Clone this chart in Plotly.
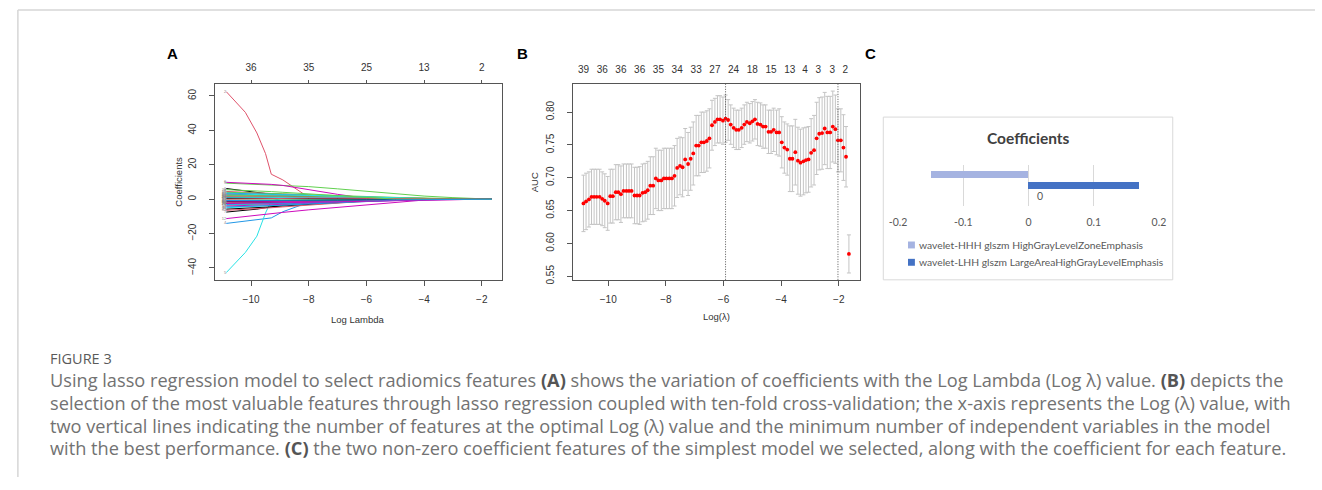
import plotly.graph_objects as go

W, H = 1322, 490

# ---------------- Panel A: lasso coefficient paths ----------------
A_LOG_LAMBDA = [-10.86, -10.2, -9.8, -9.5, -9.3, -8.9, -8.0, -7.0, -6.0, -5.0, -4.0, -3.0, -2.0, -1.65]
A_COEF_PATHS = [
    [6.2, 4.8, 3.8, 3.0, 2.6, 2.0, 1.0, 0.3, 0, 0, 0, 0, 0, 0],
    [62.5, 50.5, 38.5, 26.5, 14.5, 11.2, 1.0, 0, 0, 0, 0, 0, 0, 0],
    [9.3, 8.9, 8.6, 8.4, 8.2, 7.9, 7.3, 6.0, 4.6, 3.2, 1.8, 0.9, 0.05, 0],
    [-14.1, -12.7, -11.9, -11.3, -10.9, -7.3, -1.8, 0, 0, 0, 0, 0, 0, 0],
    [-42.7, -31.0, -21.5, -8.0, -1.0, 0.6, 1.0, 0.4, 0, 0, 0, 0, 0, 0],
    [9.8, 9.4, 9.1, 8.8, 8.6, 8.0, 5.5, 2.8, 0.5, 0, 0, 0, 0, 0],
    [-7.5, -6.5, -5.8, -5.0, -4.5, -3.3, -1.2, 0, 0, 0, 0, 0, 0, 0],
    [4.5, 4.0, 3.6, 3.3, 3.1, 2.8, 2.0, 1.2, 0.5, 0, 0, 0, 0, 0],
    [-3.5, -3.2, -3.0, -2.8, -2.7, -2.5, -2.0, -1.3, -0.6, 0, 0, 0, 0, 0],
    [2.0, 1.9, 1.8, 1.7, 1.6, 1.5, 1.2, 0.9, 0.5, 0.2, 0, 0, 0, 0],
    [-5.0, -4.6, -4.3, -4.0, -3.8, -3.4, -2.6, -1.6, -0.7, 0, 0, 0, 0, 0],
    [-11.3, -10.0, -9.3, -8.8, -8.4, -7.7, -6.2, -4.7, -3.2, -1.8, -0.5, 0, 0, 0],
    [3.0, 2.8, 2.6, 2.5, 2.4, 2.2, 1.7, 1.1, 0.6, 0.2, 0, 0, 0, 0],
    [-2.0, -1.9, -1.8, -1.7, -1.6, -1.5, -1.2, -0.8, -0.4, -0.1, 0, 0, 0, 0],
    [4.0, 3.8, 3.6, 3.4, 3.3, 3.1, 2.6, 2.0, 1.4, 0.8, 0.3, 0, 0, 0],
    [-1.0, -1.0, -0.9, -0.9, -0.9, -0.8, -0.7, -0.5, -0.3, -0.1, 0, 0, 0, 0],
    [0.5, 0.6, 0.7, 0.7, 0.8, 0.8, 0.9, 0.8, 0.6, 0.3, 0, 0, 0, 0],
    [-4.0, -3.8, -3.6, -3.4, -3.3, -3.0, -2.4, -1.8, -1.2, -0.7, -0.3, -0.05, 0, 0],
    [-2.5, -2.4, -2.3, -2.2, -2.1, -2.0, -1.7, -1.2, -0.7, -0.2, 0, 0, 0, 0],
    [1.5, 1.5, 1.5, 1.4, 1.4, 1.4, 1.3, 1.1, 0.8, 0.5, 0.2, 0, 0, 0],
    [-1.5, -1.4, -1.4, -1.3, -1.3, -1.2, -1.0, -0.7, -0.3, 0, 0, 0, 0, 0],
    [3.5, 3.3, 3.1, 3.0, 2.9, 2.7, 2.2, 1.6, 1.0, 0.5, 0.1, 0, 0, 0],
    [-3.0, -2.8, -2.6, -2.5, -2.4, -2.2, -1.8, -1.3, -0.8, -0.4, -0.1, 0, 0, 0],
    [1.0, 1.0, 1.0, 1.0, 1.0, 1.0, 1.0, 0.9, 0.8, 0.6, 0.4, 0.2, 0.02, 0],
    [-5.8, -5.4, -5.0, -4.7, -4.5, -4.0, -3.0, -2.0, -1.0, -0.3, 0, 0, 0, 0],
    [2.5, 2.4, 2.3, 2.2, 2.1, 2.0, 1.8, 1.5, 1.1, 0.7, 0.3, 0.1, 0, 0],
    [-0.5, -0.5, -0.5, -0.5, -0.5, -0.5, -0.4, -0.3, -0.2, 0, 0, 0, 0, 0],
    [-3.0, -2.9, -2.8, -2.7, -2.6, -2.5, -2.1, -1.6, -1.0, -0.6, -0.2, 0, 0, 0],
    [1.0, 1.0, 1.0, 1.0, 1.0, 1.0, 1.1, 1.0, 0.8, 0.5, 0.2, 0, 0, 0],
    [-1.5, -1.5, -1.5, -1.4, -1.4, -1.4, -1.3, -1.1, -0.9, -0.6, -0.3, -0.1, 0, 0],
    [0.5, 0.5, 0.5, 0.5, 0.5, 0.5, 0.4, 0.3, 0.2, 0, 0, 0, 0, 0],
    [-6.5, -6.0, -5.6, -5.2, -5.0, -4.5, -3.4, -2.2, -1.0, 0, 0, 0, 0, 0],
    [2.0, 2.0, 2.0, 1.9, 1.9, 1.9, 1.8, 1.5, 1.2, 0.8, 0.4, 0.1, 0, 0],
    [-4.5, -4.3, -4.1, -3.9, -3.8, -3.5, -2.8, -2.0, -1.3, -0.7, -0.2, 0, 0, 0],
    [3.0, 2.9, 2.8, 2.7, 2.6, 2.5, 2.2, 1.7, 1.2, 0.6, 0.1, 0, 0, 0],
    [-2.5, -2.4, -2.3, -2.2, -2.2, -2.1, -1.9, -1.6, -1.2, -0.8, -0.4, -0.1, 0, 0],
    [-1.0, -1.0, -1.0, -1.0, -1.0, -0.9, -0.8, -0.6, -0.3, 0, 0, 0, 0, 0],
    [0.0, 0.2, 0.3, 0.4, 0.4, 0.5, 0.6, 0.6, 0.5, 0.3, 0.1, 0, 0, 0],
    [5.5, 5.2, 4.9, 4.6, 4.4, 4.0, 3.0, 1.9, 0.8, 0, 0, 0, 0, 0],
    [-0.8, -0.8, -0.8, -0.8, -0.8, -0.8, -0.7, -0.6, -0.5, -0.4, -0.3, -0.2, -0.1, 0],
]
A_X_TICKS = [-10, -8, -6, -4, -2]
A_Y_TICKS = [-40, -20, 0, 20, 40, 60]
A_TOP_TICKS = [-10, -8, -6, -4, -2]
A_TOP_LABELS = ["36", "35", "25", "13", "2"]

# ---------------- Panel B: 10-fold CV AUC ----------------
B_LOG_LAMBDA = [
    -10.86, -10.77, -10.67, -10.58, -10.49, -10.40, -10.30, -10.21, -10.12, -10.02,
    -9.93, -9.84, -9.74, -9.65, -9.56, -9.47, -9.37, -9.28, -9.19, -9.09,
    -9.00, -8.91, -8.81, -8.72, -8.63, -8.54, -8.44, -8.35, -8.26, -8.16,
    -8.07, -7.98, -7.88, -7.79, -7.70, -7.61, -7.51, -7.42, -7.33, -7.23,
    -7.14, -7.05, -6.95, -6.86, -6.77, -6.68, -6.58, -6.49, -6.40, -6.30,
    -6.21, -6.12, -6.02, -5.93, -5.84, -5.75, -5.65, -5.56, -5.47, -5.37,
    -5.28, -5.19, -5.09, -5.00, -4.91, -4.82, -4.72, -4.63, -4.54, -4.44,
    -4.35, -4.26, -4.16, -4.07, -3.98, -3.89, -3.79, -3.70, -3.61, -3.51,
    -3.42, -3.33, -3.23, -3.14, -3.05, -2.96, -2.86, -2.77, -2.68, -2.58,
    -2.49, -2.40, -2.30, -2.21, -2.12, -2.03, -1.93, -1.84, -1.75, -1.65,
]
B_AUC = [
    0.661, 0.664, 0.667, 0.671, 0.671, 0.671, 0.671, 0.668, 0.665, 0.661,
    0.672, 0.672, 0.678, 0.678, 0.675, 0.680, 0.680, 0.680, 0.680, 0.673,
    0.673, 0.673, 0.677, 0.678, 0.681, 0.688, 0.688, 0.699, 0.696, 0.696,
    0.699, 0.699, 0.699, 0.699, 0.703, 0.715, 0.718, 0.716, 0.728, 0.721,
    0.729, 0.737, 0.749, 0.749, 0.754, 0.754, 0.756, 0.760, 0.780, 0.785,
    0.789, 0.789, 0.787, 0.790, 0.788, 0.781, 0.776, 0.773, 0.773, 0.776,
    0.781, 0.785, 0.783, 0.786, 0.789, 0.782, 0.781, 0.778, 0.778, 0.770,
    0.770, 0.773, 0.769, 0.769, 0.754, 0.746, 0.743, 0.729, 0.729, 0.739,
    0.726, 0.723, 0.725, 0.727, 0.728, 0.738, 0.742, 0.760, 0.767, 0.768,
    0.775, 0.769, 0.769, 0.778, 0.774, 0.757, 0.757, 0.746, 0.732, 0.584,
]
B_SE = [
    0.043, 0.043, 0.042, 0.042, 0.042, 0.042, 0.042, 0.041, 0.041, 0.041,
    0.041, 0.041, 0.042, 0.042, 0.043, 0.041, 0.041, 0.041, 0.041, 0.043,
    0.043, 0.044, 0.044, 0.044, 0.044, 0.044, 0.044, 0.046, 0.046, 0.046,
    0.046, 0.046, 0.046, 0.046, 0.046, 0.045, 0.044, 0.045, 0.047, 0.048,
    0.048, 0.048, 0.046, 0.046, 0.046, 0.046, 0.046, 0.045, 0.038, 0.036,
    0.036, 0.036, 0.036, 0.036, 0.031, 0.030, 0.030, 0.030, 0.030, 0.030,
    0.030, 0.030, 0.030, 0.030, 0.030, 0.033, 0.033, 0.033, 0.033, 0.033,
    0.033, 0.033, 0.034, 0.036, 0.039, 0.039, 0.039, 0.050, 0.050, 0.050,
    0.051, 0.051, 0.051, 0.050, 0.050, 0.052, 0.053, 0.055, 0.055, 0.055,
    0.055, 0.055, 0.055, 0.054, 0.052, 0.048, 0.048, 0.050, 0.046, 0.029,
]
B_X_TICKS = [-10, -8, -6, -4, -2]
B_Y_TICKS = [0.55, 0.60, 0.65, 0.70, 0.75, 0.80]
B_TOP_POS = [-10.86, -10.21, -9.56, -8.91, -8.26, -7.61, -6.95, -6.30,
             -5.65, -5.00, -4.35, -3.70, -3.17, -2.71, -2.23, -1.78]
B_TOP_LABELS = ["39", "36", "36", "36", "35", "34", "33", "27",
                "24", "18", "15", "13", "4", "3", "3", "2"]
B_LOG_LAMBDA_MIN = -5.93
B_LOG_LAMBDA_1SE = -2.03

# ---------------- Panel C: final coefficients ----------------
C_FEATURES = ["wavelet-HHH glszm HighGrayLevelZoneEmphasis",
              "wavelet-LHH glszm LargeAreaHighGrayLevelEmphasis"]
C_COEFS = [-0.15, 0.17]
C_X_TICKS = [-0.2, -0.1, 0, 0.1, 0.2]
C_X_LABELS = ["-0.2", "-0.1", "0", "0.1", "0.2"]
C_CATEGORY = "0"

CAPTION_HEAD = "FIGURE 3"
CAPTION_LINES = [
    "Using lasso regression model to select radiomics features <b>(A)</b> shows the variation of coefficients with the Log Lambda (Log \u03bb) value. <b>(B)</b> depicts the",
    "selection of the most valuable features through lasso regression coupled with ten-fold cross-validation; the x-axis represents the Log (\u03bb) value, with",
    "two vertical lines indicating the number of features at the optimal Log (\u03bb) value and the minimum number of independent variables in the model",
    "with the best performance. <b>(C)</b> the two non-zero coefficient features of the simplest model we selected, along with the coefficient for each feature.",
]

# ---------------- helpers / styles ----------------
def px(x):
    return x / W

def py(y):
    return 1 - y / H

R_PAL = ["#000000", "#DF536B", "#61D04F", "#2297E6", "#28E2E5", "#CD0BBC"]
RFONT = "Liberation Sans, Arial, sans-serif"
XLFONT = "Lato, Open Sans, sans-serif"
CAPFONT = "Open Sans, Noto Sans, sans-serif"
TXT = "#333333"
AXC = "#555555"
TF = dict(family=RFONT, size=10, color=TXT)

fig = go.Figure()

# Panel A lines
for i, ys in enumerate(A_COEF_PATHS):
    fig.add_trace(go.Scatter(x=A_LOG_LAMBDA, y=ys, mode="lines",
                             line=dict(color=R_PAL[i % 6], width=1),
                             xaxis="x", yaxis="y", hoverinfo="skip", showlegend=False))
# Panel A tiny variable labels
fig.add_trace(go.Scatter(x=[A_LOG_LAMBDA[0]] * len(A_COEF_PATHS),
                         y=[p[0] for p in A_COEF_PATHS],
                         text=[str(i + 1) for i in range(len(A_COEF_PATHS))],
                         mode="text", textposition="middle left",
                         textfont=dict(family=RFONT, size=4, color="#888888"),
                         xaxis="x", yaxis="y", hoverinfo="skip", showlegend=False))
# invisible carrier so the top (number of features) axis of A is drawn
fig.add_trace(go.Scatter(x=A_TOP_TICKS, y=[0] * len(A_TOP_TICKS), mode="markers",
                         marker=dict(opacity=0), xaxis="x3", yaxis="y",
                         hoverinfo="skip", showlegend=False))

# Panel B points with error bars
fig.add_trace(go.Scatter(x=B_LOG_LAMBDA, y=B_AUC, mode="markers",
                         marker=dict(color="#ff0000", size=3.8),
                         error_y=dict(type="data", array=B_SE, color="#c4c4c4",
                                      thickness=1, width=2),
                         xaxis="x2", yaxis="y2", hoverinfo="skip", showlegend=False))
# invisible carrier so the top axis of B is drawn
fig.add_trace(go.Scatter(x=B_TOP_POS, y=[0.7] * len(B_TOP_POS), mode="markers",
                         marker=dict(opacity=0), xaxis="x4", yaxis="y2",
                         hoverinfo="skip", showlegend=False))

# Panel C bars
C_COLORS = ["#a5b3e1", "#4472c4"]
C_YPOS = [0.55, 0.0]
for k in range(2):
    fig.add_trace(go.Bar(x=[C_COEFS[k]], y=[C_YPOS[k]], orientation="h", width=0.34,
                         marker=dict(color=C_COLORS[k], line=dict(width=0)),
                         name=C_FEATURES[k], xaxis="x5", yaxis="y5",
                         hoverinfo="skip", showlegend=False))

dom_y = [py(282.7), py(85)]
A_RANGE = [-11.26, -1.30]
B_RANGE = [-11.23, -1.28]

common_box = dict(showline=True, mirror=True, linecolor=AXC, linewidth=1,
                  showgrid=False, zeroline=False, ticks="outside", ticklen=5,
                  tickcolor=AXC, tickfont=TF)

fig.update_layout(
    width=W, height=H, margin=dict(l=0, r=0, t=0, b=0),
    paper_bgcolor="white", plot_bgcolor="rgba(0,0,0,0)",
    showlegend=False,
    xaxis=dict(domain=[px(208.3), px(499)], anchor="y", range=A_RANGE,
               tickvals=A_X_TICKS, ticklabelstandoff=5, **common_box),
    yaxis=dict(domain=dom_y, anchor="x", range=[-46.9, 66.9], tickvals=A_Y_TICKS,
               tickangle=-90, ticklabelstandoff=9, **common_box),
    xaxis3=dict(overlaying="x", side="top", anchor="y", range=A_RANGE,
                tickvals=A_TOP_TICKS, ticktext=A_TOP_LABELS, ticks="outside",
                ticklen=3, tickcolor=AXC, showline=False, showgrid=False,
                zeroline=False, tickfont=TF, ticklabelstandoff=5),
    xaxis2=dict(domain=[px(570.7), px(861)], anchor="y2", range=B_RANGE,
                tickvals=B_X_TICKS, ticklabelstandoff=5, **common_box),
    yaxis2=dict(domain=dom_y, anchor="x2", range=[0.5446, 0.8426], tickvals=B_Y_TICKS,
                tickformat=".2f", tickangle=-90, ticklabelstandoff=9, **common_box),
    xaxis4=dict(overlaying="x2", side="top", anchor="y2", range=B_RANGE,
                tickvals=B_TOP_POS, ticktext=B_TOP_LABELS, ticks="",
                showline=False, showgrid=False, zeroline=False, tickfont=TF,
                ticklabelstandoff=8),
    xaxis5=dict(domain=[px(900), px(1164)], anchor="y5", range=[-0.2, 0.2],
                tickvals=C_X_TICKS, ticktext=C_X_LABELS, showgrid=True,
                gridcolor="#d9d9d9", gridwidth=1, zeroline=False, showline=False,
                ticks="", tickfont=dict(family=XLFONT, size=10.5, color="#595959"),
                ticklabelstandoff=8),
    yaxis5=dict(domain=[py(208.3), py(166.7)], anchor="x5", range=[-1, 1],
                visible=False),
    bargap=0,
)

# dotted reference lines in B
for v in (B_LOG_LAMBDA_MIN, B_LOG_LAMBDA_1SE):
    fig.add_shape(type="line", xref="x2", yref="y2 domain", x0=v, x1=v, y0=0, y1=1,
                  line=dict(color="#555555", width=1, dash="1px,1.5px"))

# outer frame lines
fig.add_shape(type="line", xref="paper", yref="paper", x0=px(9), x1=px(1322),
              y0=py(10), y1=py(10), line=dict(color="#d6d6d6", width=1.5))
fig.add_shape(type="line", xref="paper", yref="paper", x0=px(9), x1=px(9),
              y0=py(10), y1=py(482), line=dict(color="#d6d6d6", width=1.5))
# panel C frame
fig.add_shape(type="rect", xref="paper", yref="paper", x0=px(885), x1=px(1178),
              y0=py(282.7), y1=py(118.3), line=dict(color="#d9d9d9", width=1),
              layer="below")
# panel C legend swatches
fig.add_shape(type="rect", xref="paper", yref="paper", x0=px(910), x1=px(917),
              y0=py(251), y1=py(244), line=dict(width=0), fillcolor=C_COLORS[0])
fig.add_shape(type="rect", xref="paper", yref="paper", x0=px(910), x1=px(917),
              y0=py(268.5), y1=py(261.5), line=dict(width=0), fillcolor=C_COLORS[1])

ann = []
def add_text(x, y, text, size, color=TXT, family=RFONT, xanchor="center", angle=0):
    ann.append(dict(x=px(x), y=py(y), xref="paper", yref="paper", text=text,
                    showarrow=False, xanchor=xanchor, yanchor="middle",
                    textangle=angle, borderpad=0,
                    font=dict(family=family, size=size, color=color)))

# panel letters
add_text(165, 54, "<b>A</b>", 15, "#000000")
add_text(520, 54, "<b>B</b>", 15, "#000000")
add_text(872, 54, "<b>C</b>", 15, "#000000")
# axis titles
add_text(353.6, 323, "Log Lambda", 9.5)
add_text(170.7, 183.9, "Coefficients", 9.5, angle=-90)
add_text(715.8, 320, "Log(\u03bb)", 9.5)
add_text(531.7, 183.9, "AUC", 9.5, angle=-90)
# panel C texts
add_text(1031.7, 139.3, "<b>Coefficients</b>", 15.5, "#404040", XLFONT)
add_text(1043.3, 198.3, C_CATEGORY, 10.5, "#595959", XLFONT)
add_text(920, 247.5, C_FEATURES[0], 10.3, "#595959", XLFONT, xanchor="left")
add_text(920, 265, C_FEATURES[1], 10.3, "#595959", XLFONT, xanchor="left")
# caption
add_text(40, 362, CAPTION_HEAD, 14.5, "#5a5a5a", CAPFONT, xanchor="left")
for j, line in enumerate(CAPTION_LINES):
    add_text(40, 384 + j * 23, line.replace("<b>", "<b style='color:#555555'>"), 18.2,
             "#727272", CAPFONT, xanchor="left")

fig.update_layout(annotations=ann)
fig.write_html("out.html", config={"displayModeBar": False},
               post_script="document.body.style.margin='0px';")
